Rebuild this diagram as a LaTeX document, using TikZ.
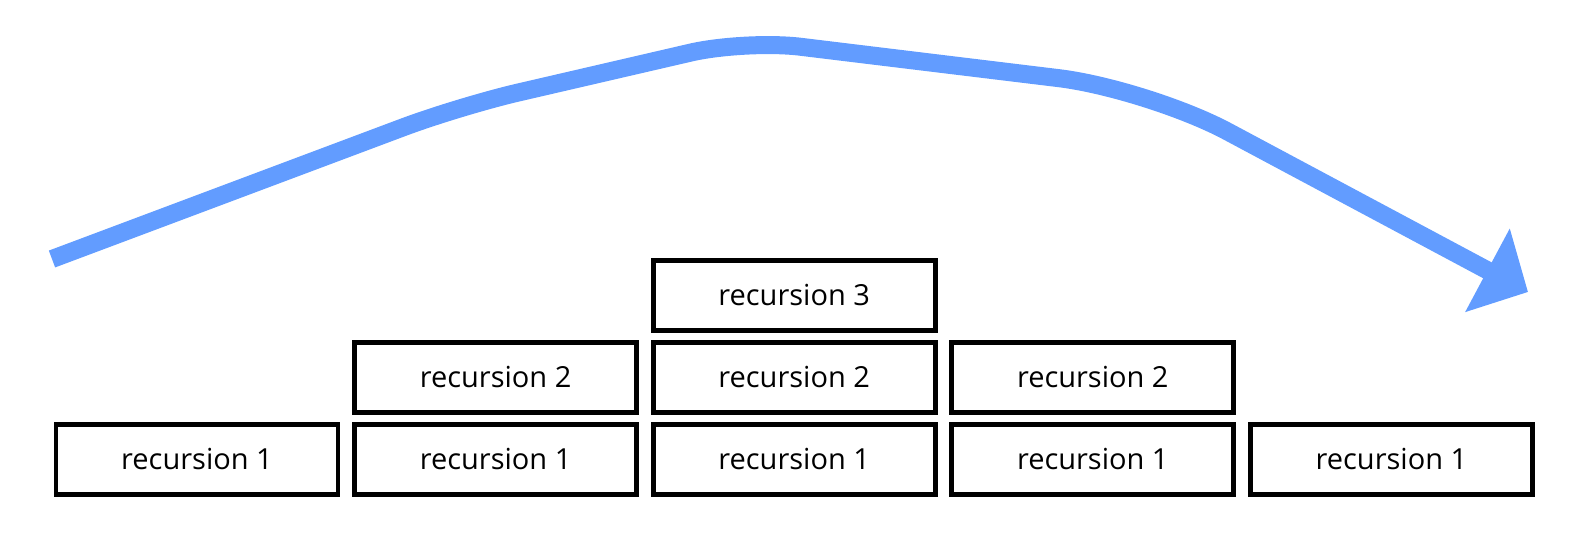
\documentclass[tikz,border=0pt]{standalone}
\usepackage{fontspec}
\setmainfont{Open Sans}
\usetikzlibrary{arrows.meta}
\definecolor{flowblue}{RGB}{98,156,255}
\tikzset{
  recbox/.style={draw=black, line width=2.4pt, fill=white, inner sep=0pt,
    minimum width=141pt, minimum height=35pt, text depth=1pt,
    font=\fontsize{14.5pt}{17pt}\selectfont},
  flow/.style={draw=flowblue, line width=9pt,
    -{Triangle[length=23pt,width=46pt]}}
}
\begin{document}
\begin{tikzpicture}[x=0.5pt,y=-0.5pt]
\useasboundingbox (0,0) rectangle (1585,537);
% bottom row
\node[recbox] (ra1) at (197,459.5) {recursion 1};
\node[recbox] (ra2) at (495.6,459.5) {recursion 1};
\node[recbox] (ra3) at (794.2,459.5) {recursion 1};
\node[recbox] (ra4) at (1092.8,459.5) {recursion 1};
\node[recbox] (ra5) at (1391.4,459.5) {recursion 1};
% middle row
\node[recbox] (rb2) at (495.6,377.5) {recursion 2};
\node[recbox] (rb3) at (794.2,377.5) {recursion 2};
\node[recbox] (rb4) at (1092.8,377.5) {recursion 2};
% top row
\node[recbox] (rc3) at (794.2,295.5) {recursion 3};
% the sweep over the stack
\coordinate (start) at (52,259);
\coordinate (stop) at (1528,292);
\draw[flow] (start) [rounded corners=30pt] -- (460,106) [rounded corners=28pt] -- (745,40)
  [rounded corners=45pt] -- (1148,89) [sharp corners] -- (stop);
\end{tikzpicture}
\end{document}
